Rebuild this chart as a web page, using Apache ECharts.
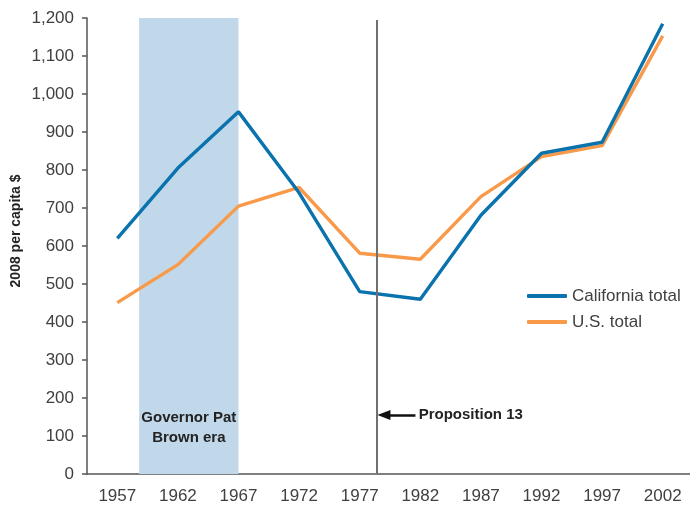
<!DOCTYPE html>
<html>
<head>
<meta charset="utf-8">
<script src="https://cdn.jsdelivr.net/npm/echarts@6/dist/echarts.min.js"></script>
<style>
  html, body { margin: 0; padding: 0; background: #fff; }
  #chart { width: 690px; height: 508px; }
</style>
</head>
<body>
<div id="chart"></div>
<script>
var years = ['1957', '1962', '1967', '1972', '1977', '1982', '1987', '1992', '1997', '2002'];
var california = [620, 805, 953, 740, 480, 460, 681, 844, 873, 1185];
var usTotal = [451, 551, 705, 754, 581, 565, 730, 835, 864, 1153];

// annotation positions, in years / dollars
var brownEra = [1958.8, 1967];
var prop13Year = 1978.4;

var font = 'Liberation Sans, Arial, sans-serif';
var myChart = echarts.init(document.getElementById('chart'));

var option = {
  animation: false,
  textStyle: { fontFamily: font },
  grid: { left: 87, right: -3, top: 18, bottom: 34, outerBoundsMode: 'none', containLabel: false },
  legend: {
    orient: 'vertical',
    left: 522,
    top: 282,
    itemWidth: 40,
    itemHeight: 4,
    itemGap: 8,
    icon: 'roundRect',
    data: ['California total', 'U.S. total'],
    textStyle: { fontSize: 17, color: '#404040', lineHeight: 18, fontFamily: font }
  },
  xAxis: [{
    type: 'category',
    data: years,
    boundaryGap: true,
    axisLine: { lineStyle: { color: '#555', width: 1.5 } },
    axisTick: { length: 5, lineStyle: { color: '#555', width: 1.5 } },
    axisLabel: { fontSize: 17, color: '#404040', margin: 14 },
    splitLine: { show: false }
  }, {
    type: 'value',
    min: 1954.5,
    max: 2004.5,
    show: false
  }],
  yAxis: {
    type: 'value',
    min: 0,
    max: 1200,
    interval: 100,
    name: '2008 per capita $',
    nameLocation: 'middle',
    nameGap: 64,
    nameMoveOverlap: false,
    nameTextStyle: { fontSize: 14, color: '#222', fontWeight: 'bold', padding: [0, 0, 0, 30] },
    axisLine: { show: true, lineStyle: { color: '#555', width: 1.5 } },
    axisTick: { show: true, length: 5, lineStyle: { color: '#555', width: 1.5 } },
    axisLabel: {
      fontSize: 17, color: '#404040', margin: 13,
      formatter: function (v) { return v.toLocaleString('en-US'); }
    },
    splitLine: { show: false }
  },
  series: [{
    name: 'annotations',
    type: 'line',
    xAxisIndex: 1,
    data: [],
    silent: true,
    markArea: {
      silent: true,
      itemStyle: { color: '#c1d7ea' },
      data: [[{ coord: [brownEra[0], 0] }, { coord: [brownEra[1], 1200] }]]
    },
    markLine: {
      silent: true,
      symbol: 'none',
      label: { show: false },
      data: [
        [{ coord: [prop13Year, 0], lineStyle: { color: '#707070', width: 2, type: 'solid' } },
         { coord: [prop13Year, 1195] }],
        [{ coord: [1981.6, 155], symbol: 'none', lineStyle: { color: '#111', width: 2.5, type: 'solid' } },
         { coord: [1979.0, 155], symbol: 'triangle', symbolSize: [10, 13], symbolRotate: 90 }]
      ]
    },
    markPoint: {
      silent: true,
      symbol: 'circle',
      symbolSize: 0,
      data: [{
        coord: [1962.9, 121],
        label: {
          show: true, position: 'inside', formatter: 'Governor Pat\nBrown era',
          fontSize: 15, lineHeight: 20, color: '#222', fontWeight: 'bold', align: 'center'
        }
      }, {
        coord: [1981.7, 155],
        label: {
          show: true, position: 'right', distance: 2, formatter: 'Proposition 13',
          fontSize: 15, color: '#222', fontWeight: 'bold'
        }
      }]
    }
  }, {
    name: 'California total',
    type: 'line',
    data: california,
    symbol: 'none',
    color: '#0a72ac',
    lineStyle: { width: 3.4, color: '#0a72ac' },
    z: 4
  }, {
    name: 'U.S. total',
    type: 'line',
    data: usTotal,
    symbol: 'none',
    color: '#f9994a',
    lineStyle: { width: 3.4, color: '#f9994a' },
    z: 3
  }]
};

myChart.setOption(option);
</script>
</body>
</html>
